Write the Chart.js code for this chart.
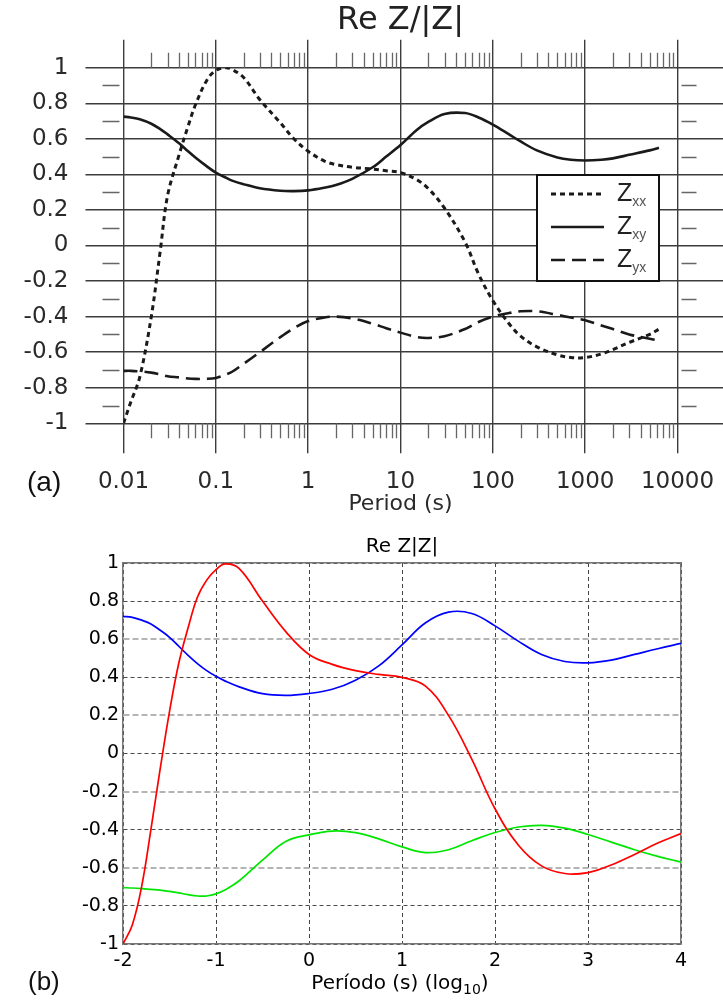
<!DOCTYPE html>
<html>
<head>
<meta charset="utf-8">
<script src="https://cdn.jsdelivr.net/npm/chart.js@4.4.1/dist/chart.umd.min.js"></script>
<style>
  body { margin: 0; background: #fff; }
  #page { position: relative; width: 723px; height: 1006px; overflow: hidden; background: #fff; }
  .tag { position: absolute; font-family: "Liberation Sans", Arial, sans-serif; color: #111; }
  #titleB { position: absolute; left: 200px; width: 400px; top: 972px; text-align: center; line-height: 20px;
            font-family: "DejaVu Sans", sans-serif; font-size: 20px; color: #000; }
  #titleB sub { font-size: 14px; line-height: 0; }
</style>
</head>
<body>
<div id="page">
  <canvas id="chartA" width="723" height="520"></canvas>
  <canvas id="chartB" width="723" height="486" style="position:absolute;left:0;top:520px"></canvas>
  <div class="tag" style="left:27px;top:466px;font-size:28px">(a)</div>
  <div class="tag" style="left:28px;top:966px;font-size:26px">(b)</div>
  <div id="titleB">Período (s) (log<sub>10</sub>)</div>
</div>
<script>
// ---- (a) original figure: period in seconds, log axis
const periodsA = [0.01, 0.012, 0.015, 0.02, 0.025, 0.03, 0.04, 0.05, 0.06, 0.08, 0.1, 0.13, 0.15, 0.2, 0.3, 0.5, 0.7,
  1, 1.5, 2, 3, 5, 7, 10, 15, 20, 30, 50, 70, 100, 150, 200, 300, 500, 700, 1000, 1500, 2000, 3000, 5000, 6300];
const zxxA = [-1.0, -0.88, -0.74, -0.40, -0.03, 0.28, 0.51, 0.67, 0.79, 0.93, 0.985, 1.0, 0.99, 0.945, 0.82, 0.69, 0.60,
  0.53, 0.475, 0.455, 0.44, 0.43, 0.42, 0.41, 0.37, 0.32, 0.21, 0.02, -0.16, -0.31, -0.44, -0.51, -0.57, -0.615, -0.63,
  -0.63, -0.61, -0.585, -0.545, -0.50, -0.47];
const zxyA = [0.725, 0.72, 0.71, 0.685, 0.655, 0.625, 0.575, 0.53, 0.495, 0.445, 0.41, 0.38, 0.365, 0.345, 0.322, 0.308,
  0.306, 0.31, 0.325, 0.34, 0.375, 0.44, 0.50, 0.565, 0.65, 0.695, 0.74, 0.745, 0.72, 0.68, 0.625, 0.585, 0.535, 0.495,
  0.482, 0.478, 0.482, 0.49, 0.51, 0.535, 0.55];
const zyxA = [-0.705, -0.705, -0.708, -0.715, -0.725, -0.735, -0.742, -0.748, -0.75, -0.75, -0.745, -0.725, -0.71, -0.665,
  -0.60, -0.515, -0.465, -0.425, -0.405, -0.40, -0.41, -0.44, -0.465, -0.49, -0.515, -0.52, -0.51, -0.47, -0.43, -0.40,
  -0.38, -0.37, -0.37, -0.39, -0.405, -0.42, -0.45, -0.47, -0.50, -0.525, -0.535];
const periodTicksA = [0.01, 0.1, 1, 10, 100, 1000, 10000];
const halfTicksA = [-0.9, -0.7, -0.5, -0.3, -0.1, 0.1, 0.3, 0.5, 0.7, 0.9];

// ---- (b) recomputed figure: log10 of period
const logPeriodsB = [-2, -1.9, -1.8, -1.7, -1.6, -1.5, -1.4, -1.3, -1.2, -1.1, -1.0, -0.9, -0.75, -0.5, -0.25, 0,
  0.25, 0.5, 0.75, 1.0, 1.25, 1.5, 1.75, 2.0, 2.25, 2.5, 2.75, 3.0, 3.25, 3.5, 3.75, 4.0];
const zxxB = [-1.0, -0.90, -0.70, -0.40, -0.08, 0.22, 0.475, 0.66, 0.82, 0.91, 0.965, 0.995, 0.97, 0.80, 0.64, 0.52,
  0.468, 0.435, 0.415, 0.40, 0.355, 0.20, -0.03, -0.29, -0.48, -0.59, -0.63, -0.625, -0.585, -0.53, -0.47, -0.42];
const zxyB = [0.72, 0.715, 0.70, 0.68, 0.647, 0.61, 0.563, 0.515, 0.472, 0.435, 0.405, 0.38, 0.35, 0.314, 0.305, 0.315,
  0.337, 0.385, 0.46, 0.57, 0.685, 0.742, 0.735, 0.67, 0.59, 0.52, 0.483, 0.476, 0.49, 0.52, 0.55, 0.578];
const zyxB = [-0.704, -0.706, -0.709, -0.713, -0.717, -0.724, -0.732, -0.741, -0.748, -0.748, -0.737, -0.715, -0.668,
  -0.56, -0.462, -0.427, -0.407, -0.415, -0.448, -0.49, -0.52, -0.505, -0.458, -0.415, -0.386, -0.377, -0.392,
  -0.425, -0.465, -0.505, -0.54, -0.57];

function toPoints(xs, ys) {
  return xs.map((x, i) => ({ x: x, y: ys[i] }));
}
function fmt(v) {
  return String(Math.round(v * 10) / 10);
}

// legend in a box, with subscripts
const boxLegend = {
  id: 'boxLegend',
  afterDatasetsDraw(chart, args, o) {
    const ctx = chart.ctx;
    ctx.save();
    ctx.fillStyle = '#fff';
    ctx.fillRect(o.x, o.y, o.w, o.h);
    ctx.strokeStyle = o.borderColor;
    ctx.lineWidth = o.borderWidth;
    ctx.strokeRect(o.x, o.y, o.w, o.h);
    chart.data.datasets.forEach((ds, i) => {
      const y = o.y + o.first + i * o.gap;
      ctx.setLineDash(ds.borderDash || []);
      ctx.lineWidth = ds.borderWidth;
      ctx.strokeStyle = ds.borderColor;
      ctx.beginPath();
      ctx.moveTo(o.x + o.line0, y);
      ctx.lineTo(o.x + o.line1, y);
      ctx.stroke();
      ctx.setLineDash([]);
      ctx.textBaseline = 'middle';
      ctx.fillStyle = o.textColor;
      ctx.font = o.font;
      ctx.fillText(ds.label[0], o.x + o.textX, y);
      const w = ctx.measureText(ds.label[0]).width;
      ctx.fillStyle = o.subColor;
      ctx.font = o.subFont;
      ctx.fillText(ds.label.slice(1), o.x + o.textX + w, y + o.subDy);
    });
    ctx.restore();
  }
};

// short decade / half-step tick marks of the scanned plot
const scanTicks = {
  id: 'scanTicks',
  beforeDatasetsDraw(chart) {
    const ctx = chart.ctx, a = chart.chartArea, x = chart.scales.x, y = chart.scales.y;
    ctx.save();
    ctx.strokeStyle = '#666';
    ctx.lineWidth = 1.3;
    ctx.beginPath();
    periodTicksA.slice(0, -1).forEach(p => {
      for (let k = 2; k <= 9; k++) {
        const px = Math.round(x.getPixelForValue(p * k)) + 0.5;
        ctx.moveTo(px, a.top - 15); ctx.lineTo(px, a.top);
        ctx.moveTo(px, a.bottom); ctx.lineTo(px, a.bottom + 15);
      }
    });
    halfTicksA.forEach(v => {
      const py = Math.round(y.getPixelForValue(v)) + 0.5;
      ctx.moveTo(a.left - 21, py); ctx.lineTo(a.left - 4, py);
      ctx.moveTo(a.right + 4, py); ctx.lineTo(a.right + 19, py);
    });
    ctx.stroke();
    ctx.restore();
  }
};

const ink = '#1a1a1a';
const gridA = '#3c3c3c';
const fontA = { family: '"DejaVu Sans", sans-serif', size: 23 };

new Chart(document.getElementById('chartA'), {
  type: 'line',
  data: {
    datasets: [
      { label: 'Zxx', data: toPoints(periodsA, zxxA), borderColor: ink, borderWidth: 3, borderDash: [5, 4] },
      { label: 'Zxy', data: toPoints(periodsA, zxyA), borderColor: ink, borderWidth: 2.6 },
      { label: 'Zyx', data: toPoints(periodsA, zyxA), borderColor: ink, borderWidth: 2.6, borderDash: [14, 7] }
    ]
  },
  plugins: [scanTicks, boxLegend],
  options: {
    responsive: false,
    animation: false,
    elements: { point: { radius: 0 }, line: { tension: 0.35 } },
    layout: { padding: 0 },
    plugins: {
      legend: { display: false },
      tooltip: { enabled: false },
      title: { display: true, text: 'Re Z/|Z|', fullSize: false, color: '#222',
               font: { family: '"DejaVu Sans", sans-serif', size: 32, weight: 'normal' }, padding: { top: 1, bottom: 0 } },
      boxLegend: { x: 537, y: 175, w: 122, h: 106, first: 19, gap: 33, line0: 14, line1: 67, textX: 80,
                   borderColor: '#111', borderWidth: 2, textColor: '#222', subColor: '#555',
                   font: '25px "Liberation Sans", Arial, sans-serif', subFont: '14px "Liberation Sans", Arial, sans-serif', subDy: 8 }
    },
    scales: {
      x: {
        type: 'logarithmic', position: 'bottom', min: 0.01, max: 10000,
        afterBuildTicks: s => { s.ticks = periodTicksA.map(v => ({ value: v })); },
        afterFit: s => { s.height = 96.7; s.paddingLeft = 0; s.paddingRight = 0; },
        grid: { color: gridA, lineWidth: 1.4, tickLength: 30 },
        border: { display: false },
        ticks: { font: fontA, color: '#2a2a2a', padding: 15, maxRotation: 0, autoSkip: false, callback: v => String(v) },
        title: { display: true, text: 'Period (s)', color: '#2a2a2a', font: { family: fontA.family, size: 22, lineHeight: 1 },
                 padding: { top: 0, bottom: 5 } }
      },
      xTop: {
        type: 'logarithmic', position: 'top', min: 0.01, max: 10000,
        afterBuildTicks: s => { s.ticks = periodTicksA.map(v => ({ value: v })); },
        afterFit: s => { s.height = 67.7 - 39.4; s.paddingLeft = 0; s.paddingRight = 0; },
        grid: { color: gridA, lineWidth: 1.4, tickLength: 28, drawOnChartArea: false },
        border: { display: false },
        ticks: { display: false }
      },
      y: {
        min: -1, max: 1,
        afterFit: s => { s.width = 123.5; },
        grid: { color: gridA, lineWidth: 1.4, tickLength: 38 },
        border: { display: false },
        ticks: { stepSize: 0.2, font: fontA, color: '#2a2a2a', padding: 17, callback: fmt }
      },
      yRight: {
        position: 'right', min: -1, max: 1,
        afterFit: s => { s.width = 45.5; },
        grid: { color: gridA, lineWidth: 1.4, tickLength: 46, drawOnChartArea: false },
        border: { display: false },
        ticks: { stepSize: 0.2, display: false }
      }
    }
  }
});

// ---- (b)
const lightRows = [6, 2, -2, -6];
const fontB = { family: '"DejaVu Sans", sans-serif', size: 19 };

new Chart(document.getElementById('chartB'), {
  type: 'line',
  data: {
    datasets: [
      { label: 'Zxx', data: toPoints(logPeriodsB, zxxB), borderColor: '#ff0000', borderWidth: 1.7 },
      { label: 'Zxy', data: toPoints(logPeriodsB, zxyB), borderColor: '#0000ff', borderWidth: 1.7 },
      { label: 'Zyx', data: toPoints(logPeriodsB, zyxB), borderColor: '#00e600', borderWidth: 1.7 }
    ]
  },
  plugins: [boxLegend],
  options: {
    responsive: false,
    animation: false,
    elements: { point: { radius: 0 }, line: { tension: 0.4 } },
    layout: { padding: 0 },
    plugins: {
      legend: { display: false },
      tooltip: { enabled: false },
      title: { display: true, text: 'Re Z|Z|', fullSize: false, color: '#000',
               font: { family: fontB.family, size: 20, weight: 'normal' }, padding: { top: 15, bottom: 4 } },
      boxLegend: { x: 547, y: 678, w: 113, h: 135, first: 24, gap: 43.5, line0: 7, line1: 47, textX: 51,
                   borderColor: '#777', borderWidth: 1.4, textColor: '#000', subColor: '#000',
                   font: '21px "Liberation Sans", Arial, sans-serif', subFont: '15px "Liberation Sans", Arial, sans-serif', subDy: 10 }
    },
    scales: {
      x: {
        type: 'linear', position: 'bottom', min: -2, max: 4,
        afterFit: s => { s.height = 62; },
        grid: { color: '#444', lineWidth: 1, drawTicks: false },
        border: { display: true, color: '#777', width: 1.5, dash: [4, 3] },
        ticks: { stepSize: 1, font: fontB, color: '#000', padding: 6, maxRotation: 0 }
      },
      xTop: {
        type: 'linear', position: 'top', min: -2, max: 4,
        afterFit: s => { s.height = 0; },
        grid: { display: false },
        border: { display: true, color: '#777', width: 1.5 },
        ticks: { display: false }
      },
      y: {
        min: -1, max: 1,
        afterFit: s => { s.width = 123; },
        grid: {
          drawTicks: false,
          color: c => lightRows.includes(Math.round(c.tick.value * 10)) ? '#b4b4b4' : '#4a4a4a',
          lineWidth: c => lightRows.includes(Math.round(c.tick.value * 10)) ? 2 : 1
        },
        border: { display: true, color: '#777', width: 1.5,
                  dash: c => (c.tick && lightRows.includes(Math.round(c.tick.value * 10))) ? [6, 3] : [4, 3] },
        ticks: { stepSize: 0.2, font: fontB, color: '#000', padding: 4, callback: fmt }
      },
      yRight: {
        position: 'right', min: -1, max: 1,
        afterFit: s => { s.width = 42; },
        grid: { display: false },
        border: { display: true, color: '#777', width: 1.5 },
        ticks: { display: false }
      }
    }
  }
});
</script>
</body>
</html>
